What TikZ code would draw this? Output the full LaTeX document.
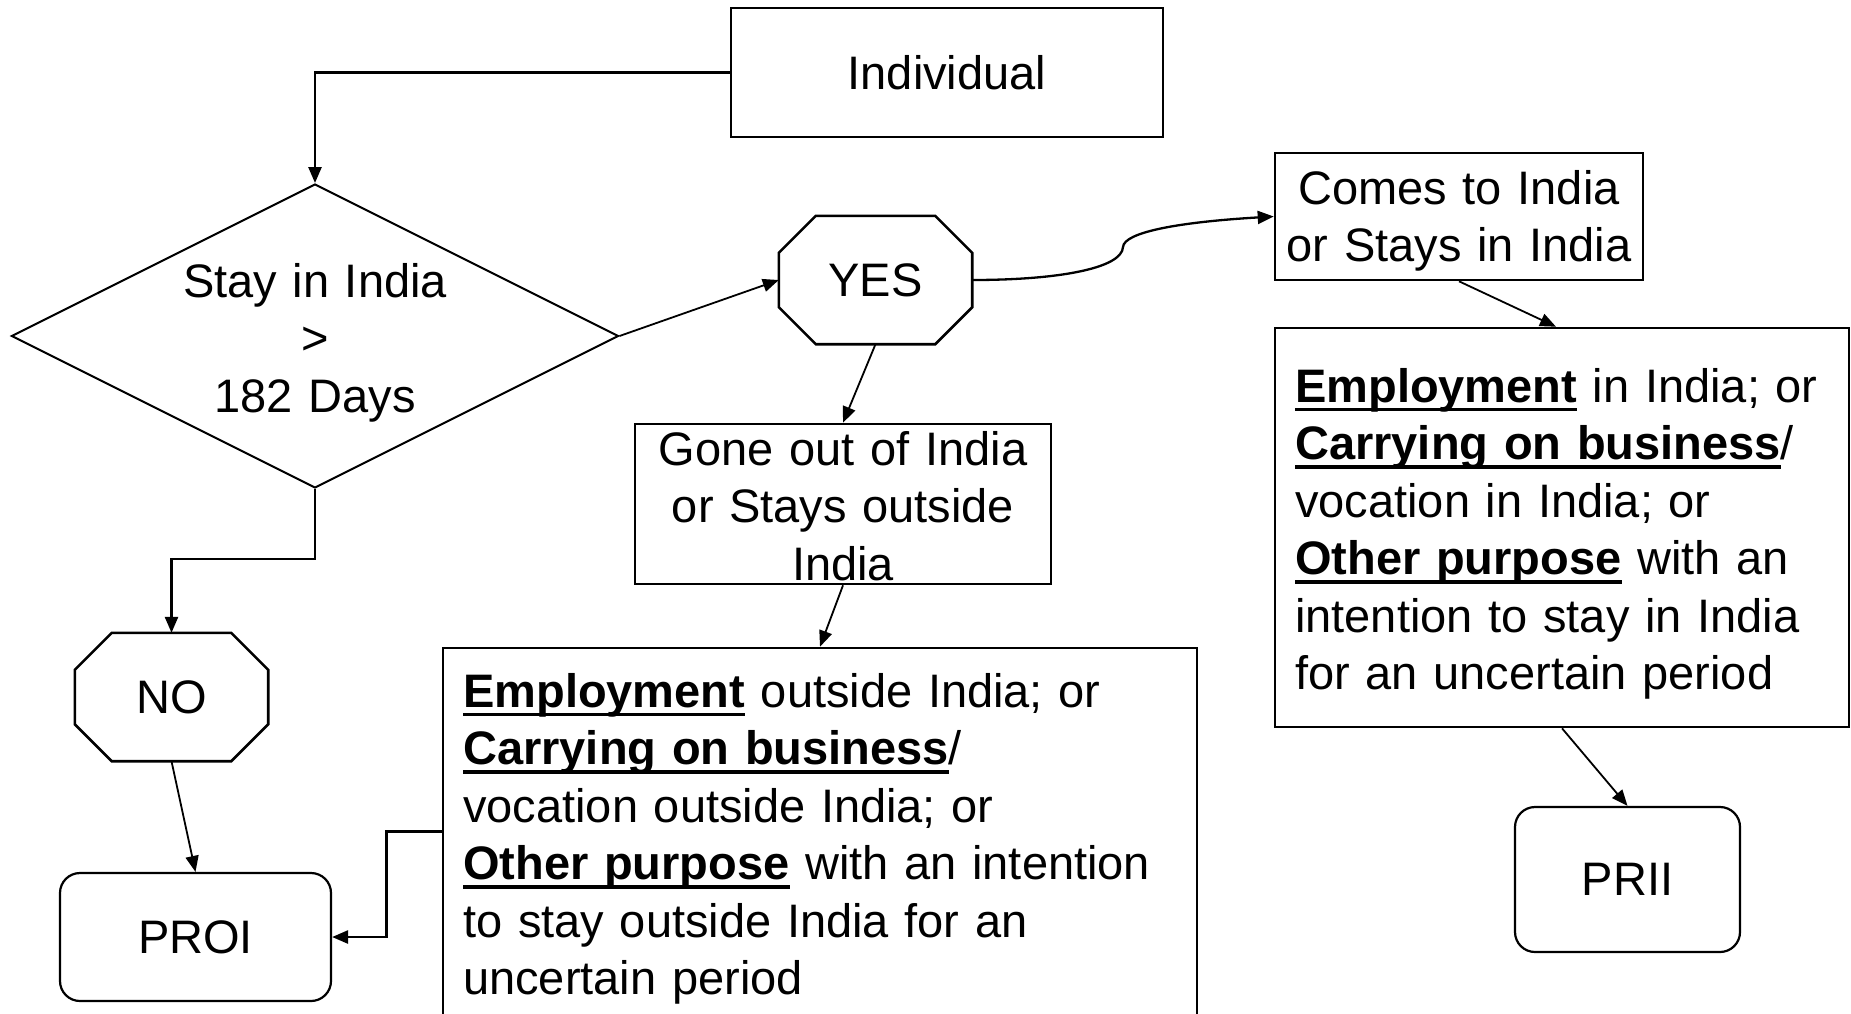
\documentclass[tikz,border=0pt]{standalone}
\usepackage{fontspec}
\setmainfont{Liberation Sans}
\usetikzlibrary{arrows.meta,shapes.geometric}
\newcommand\ulbf[1]{\leavevmode\sbox0{\bfseries #1}\rlap{\rule[-0.2em]{\wd0}{0.075em}}\usebox0}
\newcommand\octpath[1]{\draw[octline] ([xshift=37pt]#1.north west) -- ([xshift=-37pt]#1.north east) -- ([yshift=-37pt]#1.north east) -- ([yshift=37pt]#1.south east) -- ([xshift=-37pt]#1.south east) -- ([xshift=37pt]#1.south west) -- ([yshift=37pt]#1.south west) -- ([yshift=-37pt]#1.north west) -- cycle;}
\begin{document}
\begin{tikzpicture}[x=1pt,y=-1pt,
  every node/.style={font=\fontsize{47pt}{57.5pt}\selectfont, inner sep=0pt},
  box/.style={draw, line width=2.6pt, rectangle},
  rbox/.style={draw, line width=2.2pt, rounded corners=20pt},
  oct/.style={rectangle, minimum width=193pt, minimum height=128pt},
  octline/.style={line width=2.6pt, line join=miter},
  arr/.style={-{Triangle[length=16pt,width=13pt]}, line width=1.8pt},
  elbow/.style={-{Triangle[length=16pt,width=13pt]}, line width=2.6pt},
]
\useasboundingbox (0,0) rectangle (1851,1013);
\fill[white] (0,0) rectangle (1851,1013);

\node[box, minimum width=432pt, minimum height=129pt] (ind) at (947,72.5) {Individual};
\node[diamond, draw, line width=2pt, minimum width=607pt, minimum height=304pt] (dia) at (315,336) {};
\node[anchor=base, align=center, text width=420pt] (diat) at (315,297) {Stay in India\\>\\182 Days};
\node[oct] (yes) at (875.5,280) {YES};
\node[oct] (no) at (171.5,697) {NO};
\octpath{yes}
\octpath{no}
\node[box, minimum width=416pt, minimum height=160pt] (gone) at (843,504) {};
\node[anchor=base, align=center, text width=416pt] (gonet) at (843,465) {Gone out of India\\or Stays outside\\India};
\node[box, minimum width=368pt, minimum height=127pt] (comes) at (1459,216.5) {};
\node[anchor=base, align=center, text width=368pt] (comest) at (1459,204) {Comes to India\\or Stays in India};
\node[box, minimum width=754pt, minimum height=400pt] (emp1) at (820,848) {};
\node[anchor=base west, align=left, text width=730pt] (emp1t) at (463,707) {\ulbf{Employment} outside India; or\\\ulbf{Carrying on business}/\\vocation outside India; or\\\ulbf{Other purpose} with an intention\\to stay outside India for an\\uncertain period};
\node[box, minimum width=574pt, minimum height=399pt] (emp2) at (1562,527.5) {};
\node[anchor=base west, align=left, text width=550pt] (emp2t) at (1295,402) {\ulbf{Employment} in India; or\\\ulbf{Carrying on business}/\\vocation in India; or\\\ulbf{Other purpose} with an\\intention to stay in India\\for an uncertain period};
\node[rbox, minimum width=271pt, minimum height=128pt] (proi) at (195.5,937) {PROI};
\node[rbox, minimum width=225pt, minimum height=145pt] (prii) at (1627.5,879.5) {PRII};

\draw[elbow] (ind.west) -| (dia.north);
\draw[arr] (dia.east) -- (yes.west);
\draw[elbow] (dia.south) -- ++(0,70) -| (no.north);
\draw[arr] (no.south) -- (proi.north);
\draw[arr] (yes.south) -- (gone.north);
\draw[arr] (gone.south) -- (emp1.north);
\draw[elbow] ([yshift=-185pt]emp1.north west) -- ++(-55,0) |- (proi.east);
\draw[arr, line width=2.3pt] (yes.east) .. controls (1060,280) and (1122,268) .. (1123,247) .. controls (1124,232) and (1180,222) .. (comes.west);
\draw[arr] (comes.south) -- ([xshift=-6pt]emp2.north);
\draw[arr] (emp2.south) -- (prii.north);
\end{tikzpicture}
\end{document}
